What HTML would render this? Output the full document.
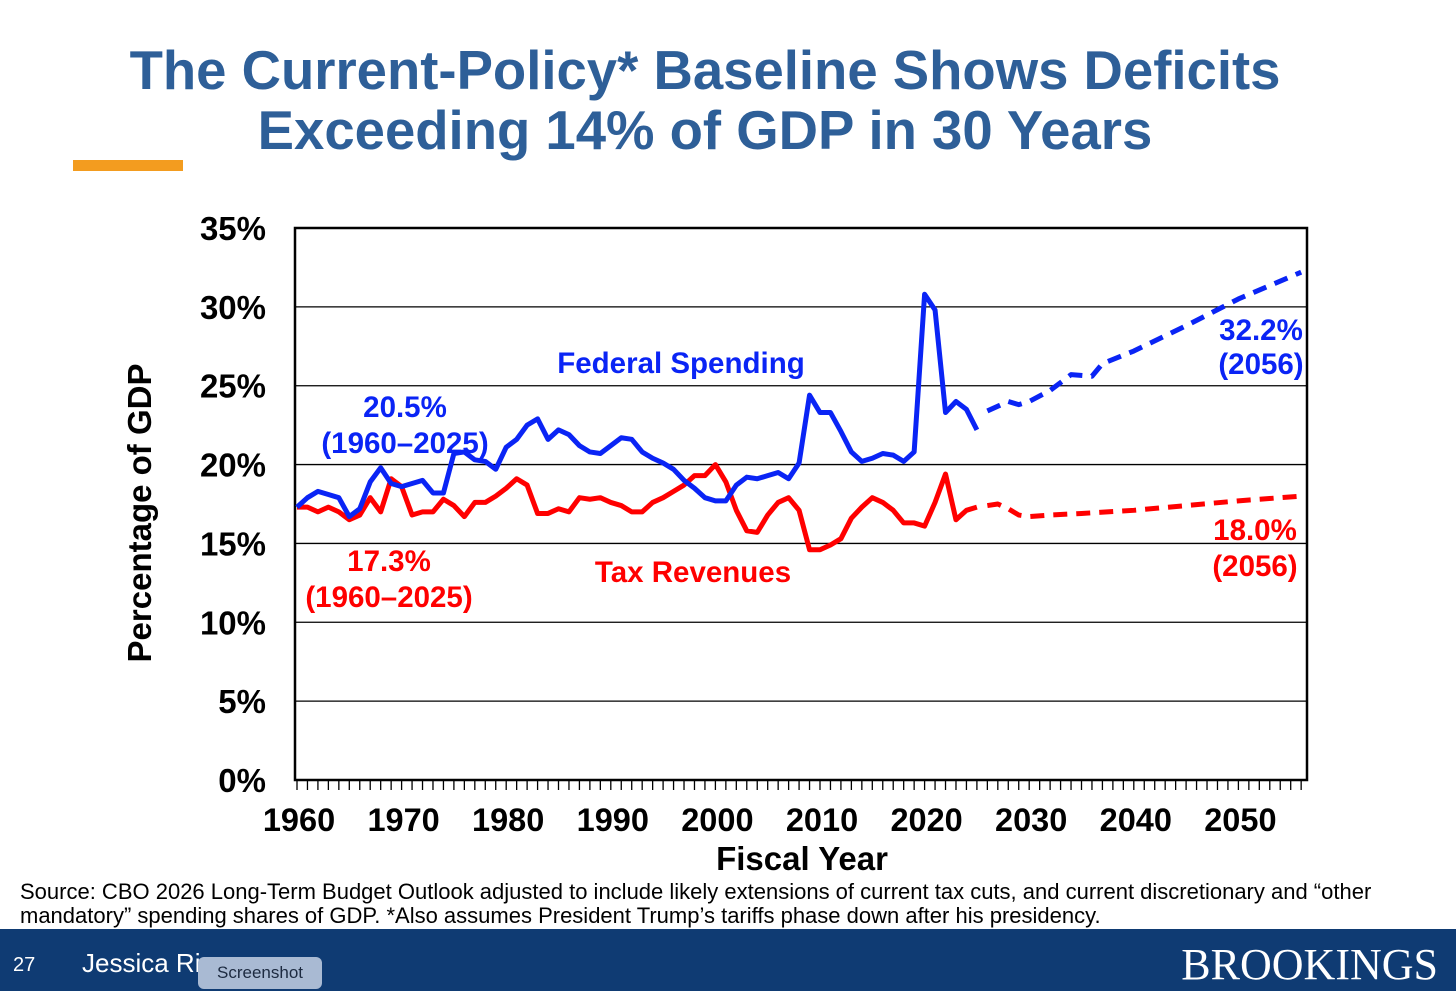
<!DOCTYPE html>
<html><head><meta charset="utf-8"><style>
body{margin:0;width:1456px;height:991px;background:#fff;position:relative;overflow:hidden;font-family:"Liberation Sans",sans-serif}
.t{position:absolute;left:0;width:1410px;text-align:center;top:41px;font-weight:bold;font-size:54.5px;line-height:60px;color:#2e5f98}
</style></head><body>
<div class="t">The Current-Policy* Baseline Shows Deficits<br>Exceeding 14% of GDP in 30 Years</div>
<div style="position:absolute;left:73px;top:160px;width:110px;height:11px;background:#f39c1f"></div>
<svg id="chart" width="1456" height="991" style="position:absolute;left:0;top:0" font-family="Liberation Sans, sans-serif"></svg>
<div style="position:absolute;left:20px;top:880px;font-size:22px;line-height:24px;color:#000">Source: CBO 2026 Long-Term Budget Outlook adjusted to include likely extensions of current tax cuts, and current discretionary and “other<br>mandatory” spending shares of GDP. *Also assumes President Trump’s tariffs phase down after his presidency.</div>
<div style="position:absolute;left:0;top:929px;width:1456px;height:62px;background:#0f3b73">
<span style="position:absolute;left:13px;top:25px;color:#fff;font-size:20px">27</span>
<span style="position:absolute;left:82px;top:19px;color:#fff;font-size:26px">Jessica Ri</span>
<span style="position:absolute;right:18px;top:10px;color:#fff;font-family:'Liberation Serif',serif;font-size:44px">BROOKINGS</span>
</div>
<div style="position:absolute;left:198px;top:957px;width:124px;height:32px;background:#a9bad3;border-radius:6px;color:#1c2a40;font-size:17px;text-align:center;line-height:32px">Screenshot</div>
<script>
const histYears=[];for(let y=1960;y<=2025;y++)histYears.push(y);
const spending=[17.3,17.9,18.3,18.1,17.9,16.7,17.2,18.9,19.8,18.8,18.6,18.8,19.0,18.2,18.2,20.7,20.8,20.3,20.2,19.7,21.1,21.6,22.5,22.9,21.6,22.2,21.9,21.2,20.8,20.7,21.2,21.7,21.6,20.8,20.4,20.1,19.7,19.0,18.5,17.9,17.7,17.7,18.7,19.2,19.1,19.3,19.5,19.1,20.1,24.4,23.3,23.3,22.1,20.8,20.2,20.4,20.7,20.6,20.2,20.8,30.8,29.8,23.3,24.0,23.5,22.2];
const revenues=[17.3,17.3,17.0,17.3,17.0,16.5,16.8,17.9,17.0,19.1,18.6,16.8,17.0,17.0,17.8,17.4,16.7,17.6,17.6,18.0,18.5,19.1,18.7,16.9,16.9,17.2,17.0,17.9,17.8,17.9,17.6,17.4,17.0,17.0,17.6,17.9,18.3,18.7,19.3,19.3,20.0,18.9,17.1,15.8,15.7,16.8,17.6,17.9,17.1,14.6,14.6,14.9,15.3,16.6,17.3,17.9,17.6,17.1,16.3,16.3,16.1,17.6,19.4,16.5,17.1,17.3];
const projYears=[2026,2028,2029,2030,2032,2034,2036,2037,2040,2045,2050,2056];
const projSpending=[23.4,24.0,23.8,24.0,24.7,25.7,25.6,26.4,27.2,28.8,30.5,32.2];
const projRevYears=[2026,2027,2028,2029,2030,2032,2035,2040,2045,2050,2056];
const projRevenues=[17.4,17.5,17.2,16.8,16.7,16.8,16.9,17.1,17.4,17.7,18.0];
const yTicks=[0,5,10,15,20,25,30,35];
const xTicks=[1960,1970,1980,1990,2000,2010,2020,2030,2040,2050];

const NS='http://www.w3.org/2000/svg',svg=document.getElementById('chart');
const L=295,R=1307,T=228,B=780;
const X=y=>297+(y-1960)*10.46;
const Y=v=>B-(v/35)*(B-T);
function mk(tag,at,txt){const e=document.createElementNS(NS,tag);for(const k in at)e.setAttribute(k,at[k]);if(txt!=null)e.textContent=txt;svg.appendChild(e);return e;}
yTicks.forEach(v=>{
 if(v>0){const g=mk('line',{x1:L,x2:R,y1:Y(v),y2:Y(v),stroke:'#000','stroke-width':1.3});
 
 }
 const t=mk('text',{x:266,y:Y(v)+12,'text-anchor':'end','font-size':33,'font-weight':'bold'},v+'%');
 
 
});
const fr=mk('rect',{x:L,y:T,width:R-L,height:B-T,fill:'none',stroke:'#000','stroke-width':2.5});


for(let y=1960;y<=2056;y++){const tk=mk('line',{x1:X(y),x2:X(y),y1:B,y2:B+10,stroke:'#000','stroke-width':1.3});
 
 }
xTicks.forEach(y=>{const t=mk('text',{x:X(y)+2,y:831,'text-anchor':'middle','font-size':32.5,'font-weight':'bold'},y);
 
 });
const xt=mk('text',{x:802,y:870,'text-anchor':'middle','font-size':33,'font-weight':'bold'},'Fiscal Year');


const yt=mk('text',{x:0,y:0,'text-anchor':'middle','font-size':33,'font-weight':'bold',transform:'translate(151,513) rotate(-90)'},'Percentage of GDP');


function line(xs,vs,col,dash,name){const p=mk('polyline',{points:xs.map((y,i)=>X(y)+','+Y(vs[i])).join(' '),fill:'none',stroke:col,'stroke-width':5,'stroke-linejoin':'round'});
 if(dash)p.setAttribute('stroke-dasharray','14 9');
 
 }
line(histYears,revenues,'#ff0000',false,'tax-revenues-line');
line(histYears,spending,'#0a24f5',false,'federal-spending-line');
line(projRevYears,projRevenues,'#ff0000',true,'tax-revenues-projection');
line(projYears,projSpending,'#0a24f5',true,'federal-spending-projection');
function lab(x,y,s,col,name){const t=mk('text',{x:x,y:y,'text-anchor':'middle','font-size':29.5,'font-weight':'bold',fill:col},s);
 
 }
lab(681,373,'Federal Spending','#0a24f5','spending-label');
lab(405,417,'20.5%','#0a24f5','spending-avg-value');
lab(405,453,'(1960–2025)','#0a24f5','spending-avg-period');
lab(1261,340,'32.2%','#0a24f5','spending-2056-value');
lab(1261,374,'(2056)','#0a24f5','spending-2056-year');
lab(693,582,'Tax Revenues','#ff0000','revenues-label');
lab(389,571,'17.3%','#ff0000','revenues-avg-value');
lab(389,607,'(1960–2025)','#ff0000','revenues-avg-period');
lab(1255,540,'18.0%','#ff0000','revenues-2056-value');
lab(1255,576,'(2056)','#ff0000','revenues-2056-year');
</script>
</body></html>
